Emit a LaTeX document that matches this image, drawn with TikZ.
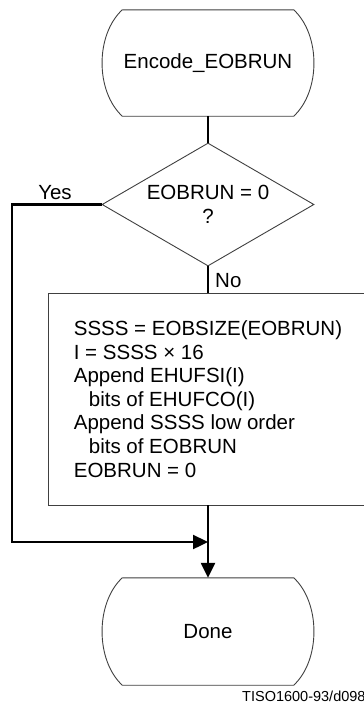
\documentclass[tikz,border=0pt]{standalone}
\usepackage{fontspec}
\setmainfont{Liberation Sans}
\usetikzlibrary{shapes.geometric,arrows.meta}
\begin{document}
\begin{tikzpicture}[x=1pt,y=-1pt,
  outline/.style={draw=black!75,line width=0.9pt},
  conn/.style={draw=black,line width=2.4pt},
  arr/.style={conn,-{Triangle[length=15pt,width=14pt]}},
  txt/.style={font=\fontsize{20.5}{23.6}\selectfont,inner sep=0pt},
  termbox/.style={txt,rectangle,minimum width=171pt,minimum height=106pt},
]
\useasboundingbox (0,0) rectangle (364,705);
\fill[white] (0,0) rectangle (364,705);

% start terminal
\node[termbox] (s) at (208,63) {Encode\_EOBRUN};
\path[outline] (s.north west) -- (s.north east)
  .. controls ++(27,25) and ++(27,-25) .. (s.south east)
  -- (s.south west)
  .. controls ++(-27,-25) and ++(-27,25) .. (s.north west);

% decision
\node[txt,diamond,outline,aspect=1.7236,minimum width=212pt,minimum height=123pt,align=center] (d) at (208,204.5) {EOBRUN = 0\\?};

% process box
\node[txt,rectangle,outline,minimum width=320pt,minimum height=212pt,align=left] (p) at (208,399)
{SSSS = EOBSIZE(EOBRUN)\\
I = SSSS × 16\\
Append EHUFSI(I)\\
\hspace*{15pt}bits of EHUFCO(I)\\
Append SSSS low order\\
\hspace*{15pt}bits of EOBRUN\\
EOBRUN = 0};

% done terminal
\node[termbox,minimum height=107pt] (e) at (208,631.5) {Done};
\path[outline] (e.north west) -- (e.north east)
  .. controls ++(27,25) and ++(27,-25) .. (e.south east)
  -- (e.south west)
  .. controls ++(-27,-25) and ++(-27,25) .. (e.north west);

% connectors
\coordinate (y1) at (12,204.5);
\coordinate (y2) at (12,542);
\coordinate (j) at (208,542);
\draw[conn] (s.south) -- (d.north);
\draw[conn] (d.south) -- (p.north);
\draw[arr] (p.south) -- (e.north);
\draw[arr] (d.west) -- (y1) -- (y2) -- (j);

% labels
\node[txt] (yes) at (55,193) {Yes};
\node[txt,anchor=west] (no) at (215,281) {No};
\node[font=\fontsize{14.5}{17}\selectfont,inner sep=0pt,anchor=west] (ref) at (242,696) {TISO1600-93/d098};
\end{tikzpicture}
\end{document}
